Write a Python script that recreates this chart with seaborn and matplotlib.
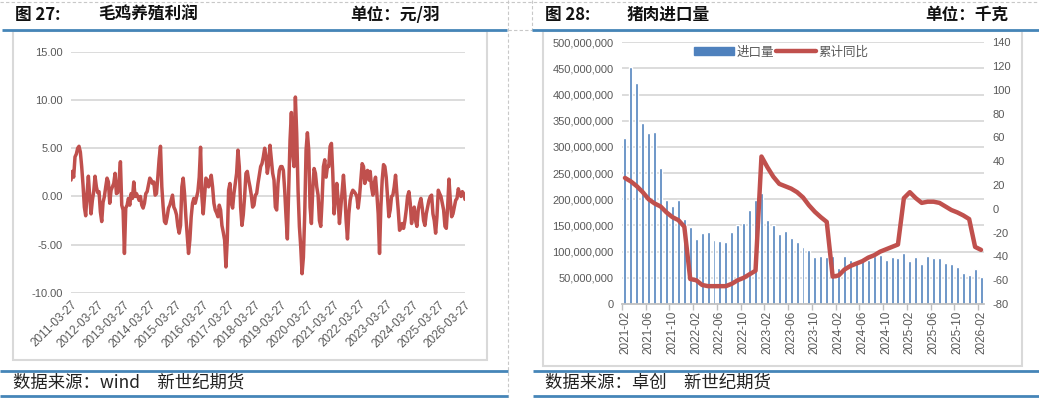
import numpy as np
import pandas as pd
import matplotlib
matplotlib.use("Agg")
import matplotlib.pyplot as plt
import matplotlib.ticker as mticker
from matplotlib.lines import Line2D
from matplotlib.patches import Patch, Rectangle
import seaborn as sns

# ---------------- data: 图27 毛鸡养殖利润 (元/羽), evenly spaced observations ----------------
profit_start = "2011-03-27"
profit_end = "2026-03-27"
profit_2011_2016 = [
    1.7, 2.6, 2.0, 4.1, 4.4, 5.0, 5.2, 4.6, 3.1, 1.2,
    -1.1, -2.0, 0.3, 2.1, 0.0, -1.8, -0.4, 0.5, 2.1, 1.0,
    0.4, 0.5, -1.6, -2.6, -0.6, 0.0, 1.0, 1.9, 1.5, -0.7,
    0.65, 1.0, 1.35, 2.4, 0.3, 0.4, 1.7, 3.6, -0.9, -1.4,
    -5.9, -1.2, -0.9, -0.2, -0.9, 0.3, -0.2, 1.5, 0.0, 0.3,
    0.0, -0.4, 0.0, -0.9, -1.2, -0.7, 0.3, 0.5, 1.2, 1.9,
    1.7, 1.35, 1.5, 0.14, 0.3, 2.0, 3.9, 5.2, 1.0, -1.1,
    -2.6, -2.8, -2.1, -1.2, -0.9, -0.4, 0.14, -1.1, -1.4, -1.9,
    -3.1, -3.8, -3.0, 1.0, 1.9, 0.3, -2.1, -4.0, -5.9, -4.5,
    -2.1, -0.7, -0.2,
]
profit_2016_2021 = [
    -0.7, -0.1, 0.5, 2.0, 5.1, 0.0, -1.8, 0.0, 1.9, 1.7,
    1.0, 1.5, 2.2, 1.0, -0.7, -1.4, -1.7, -2.1, -0.9, -1.4,
    -3.0, -3.7, -4.5, -7.3, -4.5, 0.65, 1.35, -0.7, -1.2, 0.3,
    1.35, 2.4, 4.8, 3.1, -1.1, -3.0, -1.9, 0.0, 2.4, 2.6,
    1.7, 1.0, 0.14, -1.1, -0.9, 0.14, 0.3, 1.35, 2.2, 3.1,
    3.4, 4.1, 5.0, 4.1, 2.4, 3.4, 5.3, 3.9, 2.4, 1.7,
    -1.1, -1.4, 1.35, 2.7, 3.1, 3.1, 2.7, 0.65, -2.1, -4.4,
    0.65, 5.85, 8.7, 4.5, 3.1, 10.3, 6.5, 0.65, -3.1, -5.2,
    -8.0, -6.3, -1.8, 4.8, 6.6, 4.8, -1.1, -2.8, 0.65, 2.9,
    2.4, 1.0, 0.14, -2.5, -3.1, -0.4, 3.1, 3.8, 2.0, 3.1,
    3.1, 5.2,
]
profit_2021_2026 = [
    5.5, 2.4, -1.8, 0.0, 1.35, -0.4, -2.8, -1.1, 0.65, 2.2,
    0.3, -2.5, -4.4, -1.8, -0.4, 0.3, 0.65, 0.5, 0.3, 0.0,
    -1.2, 0.0, 1.7, 3.4, 3.1, 1.35, 2.4, 2.7, 1.7, 2.6,
    1.0, 0.14, 1.35, 2.0, 0.3, -1.8, -5.9, -1.1, 1.7, 3.3,
    3.1, 2.0, 0.0, -2.1, -1.4, 0.0, 0.14, 1.0, 2.2, 0.3,
    -1.4, -3.5, -3.3, -2.8, -3.3, -2.5, -1.4, 0.0, 0.5, -0.7,
    -2.8, -1.4, -1.1, -2.5, -3.1, -1.4, -0.7, -0.2, -1.2, -2.5,
    -3.0, -1.8, -1.1, -0.4, 0.0, 0.14, -1.8, -2.5, -3.8, -2.1,
    0.65, 0.3, 0.0, -0.7, -1.4, -3.1, -3.3, -1.1, 1.8, -0.4,
    -2.1, -1.8, -1.1, -0.4, -0.2, 0.8, 0.3, 0.0, 0.5, 0.3,
    -0.3,
]
profit_tick_labels = [f"{y}-03-27" for y in range(2011, 2027)]

# ---------------- data: 图28 猪肉进口量 (千克) & 累计同比 (%) ----------------
import_months = pd.period_range("2021-02", "2026-02", freq="M").strftime("%Y-%m").tolist()
import_volume_million = [
    317, 452, 423, 346, 327, 329, 260, 198, 188, 198, 163,            # 2021-02..12
    148, 125, 135, 138, 123, 121, 119, 137, 151, 154, 179, 198,       # 2022
    213, 160, 150, 133, 140, 127, 119, 109, 104, 90, 91, 90,          # 2023
    91, 68, 91, 84, 82, 84, 85, 91, 94, 85, 90, 88,                   # 2024
    97, 82, 90, 77, 91, 87, 87, 79, 77, 71, 60, 55,                   # 2025
    67, 52,                                                           # 2026
]
import_yoy = [
    26, 23, 19, 14, 8, 4.5, 2, -3, -7, -9.5, -15,
    -59, -60, -64, -65, -65, -65, -65, -63, -60, -58, -55, -52,
    44, 35, 27, 21, 19, 17, 14, 9.6, 3, -2.5, -7, -11,
    -57, -56, -51, -48, -46, -44, -41, -39, -36, -34, -32, -30,
    9, 14, 9, 5, 6, 6, 5, 2, -1, -3, -5.5, -8.6,
    -32, -34.5,
]

# ---------------- style ----------------
sns.set_theme(style="white")
CJK = ["Noto Sans CJK SC", "DejaVu Sans"]
plt.rcParams["font.family"] = ["Liberation Sans", "Noto Sans CJK SC", "DejaVu Sans"]
plt.rcParams["axes.unicode_minus"] = False

RED = "#C0504D"
BAR = "#4F81BD"
GRID = "#D9D9D9"
TXT = "#595959"
HEAD_BLUE = "#4585B8"

W, H = 1039, 398
fig = plt.figure(figsize=(W / 100, H / 100), dpi=100)

# overlay for frame decorations (pixel coordinates)
ov = fig.add_axes([0, 0, 1, 1], zorder=0)
ov.set_xlim(0, W)
ov.set_ylim(H, 0)
ov.axis("off")

dash = dict(color="#C8C8C8", lw=0.8, ls=(0, (3, 2)))
ov.plot([0, W], [2, 2], **dash)
ov.plot([508, 508], [0, H], **dash)
ov.plot([532, 532], [0, 30], **dash)
ov.plot([508, 532], [29.5, 29.5], **dash)

for x0, x1 in [(2, 507), (532, W)]:
    ov.plot([x0, x1], [29.5, 29.5], color=HEAD_BLUE, lw=2.0, solid_capstyle="butt")
for x0, x1 in [(0, 508), (533, W)]:
    ov.plot([x0, x1], [371, 371], color=HEAD_BLUE, lw=2.0, solid_capstyle="butt")
    ov.plot([x0, x1], [396, 396], color=HEAD_BLUE, lw=2.0, solid_capstyle="butt")

ov.add_patch(Rectangle((13, 31), 474, 329, fill=False, ec=GRID, lw=1.5))
ov.add_patch(Rectangle((543, 31), 479, 335, fill=False, ec=GRID, lw=1.5))

head = dict(fontsize=12, fontweight="bold", va="center", color="#111111", family=CJK)
ov.text(15, 15, "图 27:", **head)
ov.text(98, 15, "毛鸡养殖利润", **head)
ov.text(350, 15, "单位：元/羽", **head)
ov.text(545, 15, "图 28:", **head)
ov.text(627, 15, "猪肉进口量", **head)
ov.text(925, 15, "单位：千克", **head)

foot = dict(fontsize=12.5, va="center", color="#222222", family=CJK)
ov.text(13, 383, "数据来源：wind　新世纪期货", **foot)
ov.text(545, 383, "数据来源：卓创　新世纪期货", **foot)

# ---------------- left chart ----------------
profit_values = profit_2011_2016 + profit_2016_2021 + profit_2021_2026
profit_dates = pd.date_range(profit_start, profit_end, periods=len(profit_values))
df_profit = pd.DataFrame({"date": profit_dates, "profit": profit_values})

ax1 = fig.add_axes([71 / W, 1 - 293 / H, 394 / W, (293 - 51.7) / H], zorder=2)
ax1.set_facecolor("none")
sns.lineplot(data=df_profit, x="date", y="profit", ax=ax1, color=RED, linewidth=2.5)
ax1.set_ylim(-10, 15)
ax1.set_yticks(np.arange(-10, 16, 5))
ax1.yaxis.set_major_formatter(mticker.FormatStrFormatter("%.2f"))
ax1.set_xlim(pd.Timestamp(profit_start), pd.Timestamp(profit_end))
ax1.set_xticks(pd.to_datetime(profit_tick_labels))
ax1.set_xticklabels(profit_tick_labels, rotation=45, ha="right", rotation_mode="anchor")
ax1.grid(axis="y", color=GRID, lw=1.3)
ax1.grid(axis="x", visible=False)
ax1.set_axisbelow(True)
for s in ax1.spines.values():
    s.set_visible(False)
ax1.tick_params(axis="both", length=0, colors=TXT)
ax1.tick_params(axis="y", labelsize=8, pad=6)
ax1.tick_params(axis="x", labelsize=8.5, pad=4)
ax1.set_xlabel("")
ax1.set_ylabel("")

# ---------------- right chart ----------------
volume = [v * 1e6 for v in import_volume_million]
ax2 = fig.add_axes([622 / W, 1 - 304 / H, 362 / W, (304 - 42.3) / H], zorder=2)
ax2.set_facecolor("none")
sns.barplot(x=import_months, y=volume, ax=ax2, color=BAR, saturation=1, width=0.5)
ax2.set_xlim(-0.5, len(import_months) - 0.5)
ax2.set_ylim(0, 5e8)
ax2.set_yticks(np.arange(0, 5e8 + 1, 5e7))
ax2.yaxis.set_major_formatter(mticker.FuncFormatter(lambda v, p: f"{v:,.0f}"))
ax2.set_xticks(range(0, len(import_months), 4))
ax2.set_xticklabels(import_months[::4], rotation=90)
ax2.set_xticks([i - 0.5 for i in range(0, len(import_months), 4)], minor=True)
ax2.grid(axis="y", color=GRID, lw=1.3)
ax2.grid(axis="x", visible=False)
ax2.set_axisbelow(True)
for k, s in ax2.spines.items():
    s.set_visible(k == "bottom")
ax2.spines["bottom"].set_color("#BFBFBF")
ax2.tick_params(axis="both", which="major", length=0, colors=TXT)
ax2.tick_params(axis="x", which="minor", length=4, color="#BFBFBF", bottom=True)
ax2.tick_params(axis="y", labelsize=8, pad=6)
ax2.tick_params(axis="x", labelsize=8.5, pad=5)
ax2.set_xlabel("")
ax2.set_ylabel("")

ax3 = ax2.twinx()
ax3.set_facecolor("none")
sns.lineplot(x=np.arange(len(import_yoy)), y=import_yoy, ax=ax3, color=RED, linewidth=3.2)
ax3.set_ylim(-80, 140)
ax3.set_yticks(np.arange(-80, 141, 20))
for s in ax3.spines.values():
    s.set_visible(False)
ax3.tick_params(axis="y", length=0, colors=TXT, labelsize=8, pad=6)
ax3.set_ylabel("")
ax3.grid(False)

handles = [Patch(color=BAR), Line2D([], [], color=RED, lw=3.2)]
leg = ax3.legend(handles, ["进口量", "累计同比"], loc="center", bbox_to_anchor=(0.44, 0.963),
                 ncol=2, frameon=False, handlelength=3.2, handleheight=0.55,
                 handletextpad=0.2, columnspacing=0.1,
                 prop={"family": CJK, "size": 9})
for t in leg.get_texts():
    t.set_color(TXT)

fig.savefig("out.png", dpi=100)
